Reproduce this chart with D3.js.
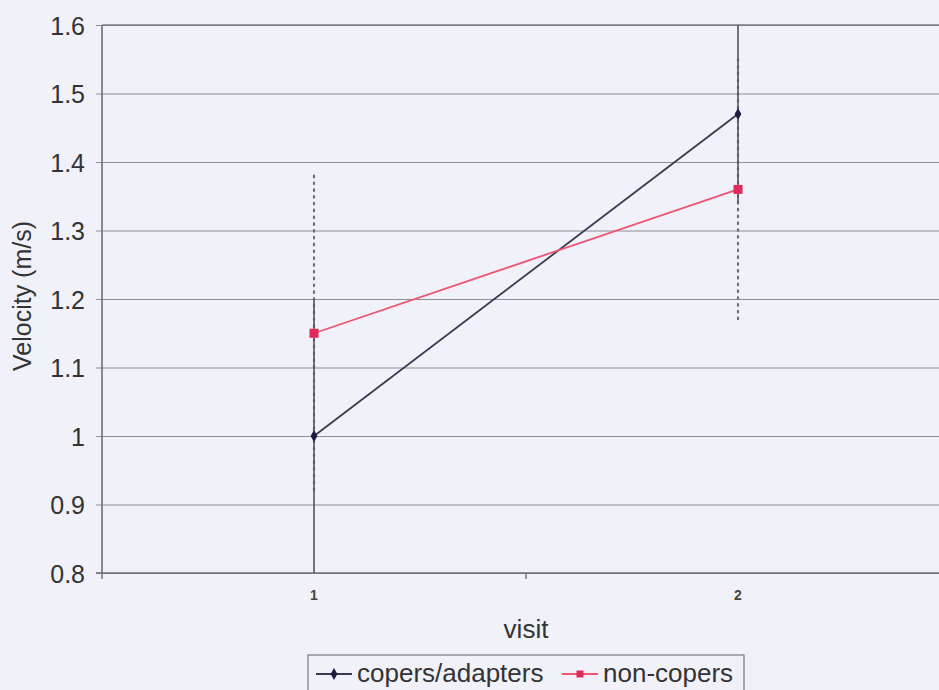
<!DOCTYPE html>
<html>
<head>
<meta charset="utf-8">
<script src="https://cdn.jsdelivr.net/npm/d3@7"></script>
<style>
  html, body { margin: 0; padding: 0; background: #f1f1f9; }
  svg { display: block; }
  text { font-family: Arial, "Liberation Sans", sans-serif; fill: #333; }
</style>
</head>
<body>
<script>
// Mean walking velocity per visit, with standard deviations
const visits = [1, 2];
const copersMean = [1.0, 1.47];
const copersSD = [0.2, 0.13];
const nonCopersMean = [1.15, 1.36];
const nonCopersSD = [0.23, 0.19];
const yTicks = [0.8, 0.9, 1, 1.1, 1.2, 1.3, 1.4, 1.5, 1.6];
const seriesNames = ["copers/adapters", "non-copers"];

const W = 939, H = 690;
const plot = { left: 102, right: 950, top: 25, bottom: 573 };

const svg = d3.select("body").append("svg").attr("width", W).attr("height", H);

const x = d3.scalePoint().domain(visits).range([plot.left, plot.right]).padding(0.5);
const y = d3.scaleLinear().domain([0.8, 1.6]).range([plot.bottom, plot.top]);

svg.append("defs").append("clipPath").attr("id", "plotClip")
  .append("rect")
  .attr("x", plot.left).attr("y", plot.top)
  .attr("width", plot.right - plot.left).attr("height", plot.bottom - plot.top);

// Horizontal gridlines with outward ticks
const yAxis = d3.axisLeft(y).tickValues(yTicks)
  .tickSize(-(plot.right - plot.left))
  .tickFormat(d => d === 1 ? "1" : d3.format(".1f")(d));
const gy = svg.append("g").attr("transform", `translate(${plot.left},0)`).call(yAxis);
gy.select(".domain").remove();
gy.selectAll(".tick line")
  .attr("x1", -6)
  .attr("stroke", "#8e8e96").attr("stroke-width", 1.1);
gy.selectAll(".tick text")
  .attr("x", -17).attr("dy", "0.36em")
  .style("font-size", "25px").style("fill", "#333");

// Plot frame: left and top edges, bottom axis line
svg.append("line").attr("x1", plot.left).attr("x2", plot.left)
  .attr("y1", plot.top).attr("y2", plot.bottom)
  .attr("stroke", "#6e6e76").attr("stroke-width", 1.6);
svg.append("line").attr("x1", plot.left).attr("x2", W)
  .attr("y1", plot.top).attr("y2", plot.top)
  .attr("stroke", "#7a7a82").attr("stroke-width", 1.4);
svg.append("line").attr("x1", plot.left - 6).attr("x2", W)
  .attr("y1", plot.bottom).attr("y2", plot.bottom)
  .attr("stroke", "#6e6e76").attr("stroke-width", 1.6);

// Category ticks between visits
const step = x.step();
const catBounds = [plot.left, plot.left + step, plot.left + 2 * step];
svg.selectAll("line.xtick").data(catBounds).enter().append("line")
  .attr("class", "xtick")
  .attr("x1", d => d).attr("x2", d => d)
  .attr("y1", plot.bottom).attr("y2", plot.bottom + 6)
  .attr("stroke", "#6e6e76").attr("stroke-width", 1.4);

svg.selectAll("text.xlabel").data(visits).enter().append("text")
  .attr("class", "xlabel")
  .attr("x", d => x(d)).attr("y", 600)
  .attr("text-anchor", "middle")
  .style("font-size", "14px").style("font-weight", "bold").style("fill", "#444")
  .text(d => d);

// Axis titles
svg.append("text")
  .attr("x", x(1) + step / 2).attr("y", 638)
  .attr("text-anchor", "middle")
  .style("font-size", "26px")
  .text("visit");
svg.append("text")
  .attr("transform", "translate(31,296) rotate(-90)")
  .attr("text-anchor", "middle")
  .style("font-size", "25px")
  .text("Velocity (m/s)");

const plotG = svg.append("g").attr("clip-path", "url(#plotClip)");

// Error bars: copers solid, non-copers dotted
const errGroups = [
  { mean: nonCopersMean, sd: nonCopersSD, dash: "1.6,5.2", color: "#707078", width: 2.2, cap: "round" },
  { mean: copersMean, sd: copersSD, dash: null, color: "#55555d", width: 1.6, cap: "butt" }
];
errGroups.forEach(g => {
  plotG.selectAll(null).data(visits).enter().append("line")
    .attr("x1", d => x(d)).attr("x2", d => x(d))
    .attr("y1", (d, i) => y(g.mean[i] + g.sd[i]))
    .attr("y2", (d, i) => y(g.mean[i] - g.sd[i]))
    .attr("stroke", g.color).attr("stroke-width", g.width)
    .attr("stroke-linecap", g.cap)
    .attr("stroke-dasharray", g.dash);
});

const line = d3.line().x(d => x(d.v)).y(d => y(d.m));
const copersPts = visits.map((v, i) => ({ v, m: copersMean[i] }));
const nonPts = visits.map((v, i) => ({ v, m: nonCopersMean[i] }));

const copersColor = "#3a3a52", copersMarker = "#1c1c40";
const nonColor = "#ec5673", nonMarker = "#e02a5a";

plotG.append("path").datum(copersPts).attr("d", line)
  .attr("fill", "none").attr("stroke", copersColor).attr("stroke-width", 1.8);
plotG.append("path").datum(nonPts).attr("d", line)
  .attr("fill", "none").attr("stroke", nonColor).attr("stroke-width", 1.8);

const diamond = d3.symbol().type(d3.symbolDiamond).size(40);
svg.selectAll("path.cm").data(copersPts).enter().append("path")
  .attr("class", "cm")
  .attr("transform", d => `translate(${x(d.v)},${y(d.m)})`)
  .attr("d", diamond).attr("fill", copersMarker);
svg.selectAll("rect.nm").data(nonPts).enter().append("rect")
  .attr("class", "nm")
  .attr("x", d => x(d.v) - 4.5).attr("y", d => y(d.m) - 4.5)
  .attr("width", 9).attr("height", 9)
  .attr("fill", nonMarker);

// Legend
const lg = svg.append("g");
lg.append("rect").attr("x", 308).attr("y", 655).attr("width", 436).attr("height", 50)
  .attr("fill", "none").attr("stroke", "#77777f").attr("stroke-width", 1.2);
const legendItems = [
  { name: seriesNames[0], lineColor: copersColor, mark: "diamond", markColor: copersMarker, x: 316 },
  { name: seriesNames[1], lineColor: nonColor, mark: "square", markColor: nonMarker, x: 562 }
];
legendItems.forEach(it => {
  const cy = 674;
  lg.append("line").attr("x1", it.x).attr("x2", it.x + 36).attr("y1", cy).attr("y2", cy)
    .attr("stroke", it.lineColor).attr("stroke-width", 1.8);
  if (it.mark === "diamond") {
    lg.append("path").attr("transform", `translate(${it.x + 18},${cy})`)
      .attr("d", diamond).attr("fill", it.markColor);
  } else {
    lg.append("rect").attr("x", it.x + 14.5).attr("y", cy - 3.5).attr("width", 7).attr("height", 7)
      .attr("fill", it.markColor);
  }
  lg.append("text").attr("x", it.x + 41).attr("y", 682)
    .style("font-size", "26px").text(it.name);
});
</script>
</body>
</html>
